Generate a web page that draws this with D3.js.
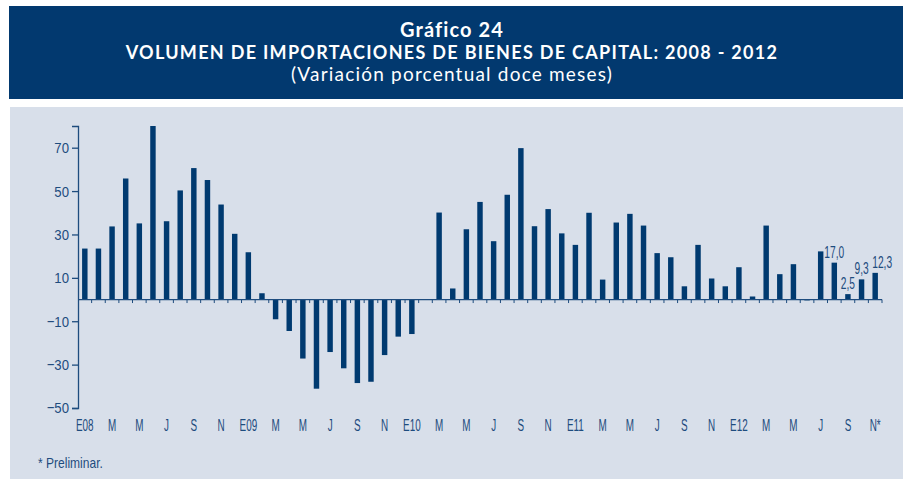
<!DOCTYPE html>
<html>
<head>
<meta charset="utf-8">
<script src="https://cdn.jsdelivr.net/npm/d3@7"></script>
<style>
  body { margin: 0; background: #fff; }
</style>
</head>
<body>
<script>
// meses ene-2008 .. nov-2012
const months = ['E08','F','M','A','M','J','J','A','S','O','N','D',
  'E09','F','M','A','M','J','J','A','S','O','N','D',
  'E10','F','M','A','M','J','J','A','S','O','N','D',
  'E11','F','M','A','M','J','J','A','S','O','N','D',
  'E12','F','M','A','M','J','J','A','S','O','N*']

const values = [23.5, 23.5, 33.7, 55.8, 35.1, 80.0, 36.1, 50.3, 60.6, 55.1, 43.8, 30.3,
  21.8, 2.9, -9.1, -14.5, -27.2, -41.1, -24.2, -31.7, -38.5, -37.9, -25.6, -17.1,
  -15.9, 0, 40.1, 5.1, 32.4, 45.0, 26.9, 48.3, 69.8, 33.8, 41.7, 30.5,
  25.2, 40.0, 9.2, 35.5, 39.5, 34.1, 21.4, 19.5, 6.1, 25.2, 9.7, 6.1,
  14.9, 1.4, 34.1, 11.7, 16.3, -0.4, 22.2, 17.0, 2.5, 9.3, 12.3]

// rotulos sobre las ultimas barras
const labelled = { 55: '17,0', 56: '2,5', 57: '9,3', 58: '12,3' }

const yTicks = [70, 50, 30, 10, -10, -30, -50]

const w = 904, h = 479
const dark = '#003a70'
const txt = '#1e4c7e'
const narrow = '"Liberation Sans", Arial, sans-serif'

const svg = d3.select('body').append('svg')
  .attr('width', w)
  .attr('height', h)

// banner y fondo
svg.append('rect').attr('x', 9).attr('y', 6).attr('width', 894).attr('height', 93).attr('fill', '#02396f')
svg.append('rect').attr('x', 10).attr('y', 107).attr('width', 893).attr('height', 372).attr('fill', '#d8dfea')

const title = svg.append('g').style('font-family', 'Lato, "Open Sans", sans-serif').attr('fill', '#fff').attr('text-anchor', 'middle')
title.append('text').attr('x', 452).attr('y', 37).attr('font-size', 20).attr('font-weight', 'bold')
  .attr('letter-spacing', 1.1).text('Gráfico 24')
title.append('text').attr('x', 452).attr('y', 59).attr('font-size', 18).attr('font-weight', 'bold')
  .attr('letter-spacing', 1.3).text('VOLUMEN DE IMPORTACIONES DE BIENES DE CAPITAL: 2008 - 2012')
title.append('text').attr('x', 452).attr('y', 81).attr('font-size', 19)
  .attr('letter-spacing', 1.2).text('(Variación porcentual doce meses)')

const x = d3.scaleBand()
  .domain(d3.range(values.length))
  .range([78, 882])
  .paddingInner(0.6)
  .paddingOuter(0.3)

const y = d3.scaleLinear()
  .domain([-50, 80])
  .range([408, 126])

const step = x.step()

// barras
svg.selectAll('rect.bar')
  .data(values)
  .enter()
  .append('rect')
  .attr('class', 'bar')
  .attr('x', (d, i) => x(i))
  .attr('y', d => y(Math.max(0, d)))
  .attr('width', x.bandwidth())
  .attr('height', d => Math.abs(y(d) - y(0)))
  .attr('fill', dark)

// eje y
const ys = 0.85
const yAxis = d3.axisLeft(y).tickValues(yTicks).tickSize(6).tickPadding(3)
const gy = svg.append('g')
  .attr('transform', 'translate(78,0)')
  .call(yAxis)
gy.select('.domain').attr('stroke', txt).attr('stroke-width', 1.3)
gy.selectAll('.tick line').attr('stroke', txt).attr('stroke-width', 1.3)
gy.selectAll('.tick text')
  .attr('fill', txt)
  .attr('font-size', 15.5)
  .style('font-family', narrow)
  .attr('x', -9 / ys)
  .attr('transform', `scale(${ys},1)`)

// eje x en cero
const boundaries = d3.range(values.length + 1).map(i => x(0) + x.bandwidth() / 2 - step / 2 + i * step)
svg.append('line')
  .attr('x1', 78).attr('x2', 882)
  .attr('y1', y(0)).attr('y2', y(0))
  .attr('stroke', txt).attr('stroke-width', 1.3)
svg.selectAll('line.xtick')
  .data(boundaries.slice(1))
  .enter()
  .append('line')
  .attr('class', 'xtick')
  .attr('x1', d => d).attr('x2', d => d)
  .attr('y1', y(0)).attr('y2', y(0) + 3.5)
  .attr('stroke', txt).attr('stroke-width', 1)

// rotulos de meses cada dos
svg.selectAll('text.xlab')
  .data(months.map((m, i) => ({ m, i })).filter(d => d.i % 2 === 0))
  .enter()
  .append('text')
  .attr('class', 'xlab')
  .attr('transform', d => `translate(${x(d.i) + x.bandwidth() / 2},431) scale(0.6,1)`)
  .attr('text-anchor', 'middle')
  .attr('font-size', 16.5)
  .style('font-family', narrow)
  .attr('fill', txt)
  .text(d => d.m)

// valores
svg.selectAll('text.val')
  .data(Object.keys(labelled).map(Number))
  .enter()
  .append('text')
  .attr('class', 'val')
  .attr('transform', i => `translate(${x(i) + x.bandwidth() / 2 + (i === 58 ? 7 : 0)},${y(values[i]) - 5}) scale(0.62,1)`)
  .attr('text-anchor', 'middle')
  .attr('font-size', 16.5)
  .style('font-family', narrow)
  .attr('fill', txt)
  .text(i => labelled[i])

svg.append('text')
  .attr('transform', 'translate(38,468) scale(0.86,1)')
  .attr('font-size', 14)
  .style('font-family', narrow)
  .attr('fill', txt)
  .text('* Preliminar.')
</script>
</body>
</html>
